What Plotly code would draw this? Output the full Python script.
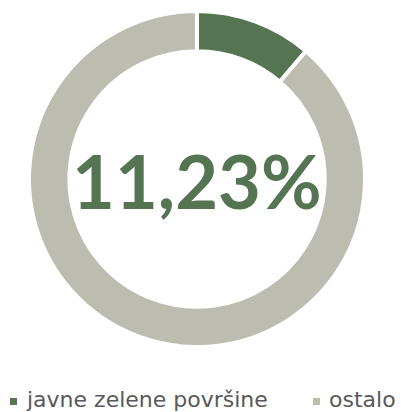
import plotly.graph_objects as go

labels = ["javne zelene površine", "ostalo"]
values = [11.23, 88.77]
colors = ["#557552", "#bdbcb0"]
center_label = "11,23%"

W, H = 401, 412

# legend entry positions in pixels (left edge of swatch)
legend_x = [10, 313]
legend_y = 401.5
swatch = 7

fig = go.Figure(
    go.Pie(
        labels=labels,
        values=values,
        hole=0.76,
        sort=False,
        direction="clockwise",
        rotation=0,
        textinfo="none",
        hoverinfo="label+percent",
        showlegend=False,
        marker=dict(colors=colors, line=dict(color="white", width=4)),
        domain=dict(x=[29 / W, 365 / W], y=[1 - 347 / H, 1 - 11 / H]),
    )
)

fig.add_annotation(
    text=f"<b>{center_label}</b>",
    x=197 / W, y=1 - 180 / H, xref="paper", yref="paper",
    xanchor="center", yanchor="middle",
    showarrow=False,
    font=dict(family="Lato", size=74, color=colors[0]),
)

# legend: coloured square swatch followed by the label
for lab, col, lx in zip(labels, colors, legend_x):
    fig.add_shape(
        type="rect", xref="paper", yref="paper",
        x0=lx / W, x1=(lx + swatch) / W,
        y0=1 - (legend_y - swatch / 2) / H, y1=1 - (legend_y + swatch / 2) / H,
        fillcolor=col, line=dict(width=0),
    )
    fig.add_annotation(
        text=lab, x=(lx + 14) / W, y=1 - 399.5 / H,
        xref="paper", yref="paper", xanchor="left", yanchor="middle",
        showarrow=False,
        font=dict(family="DejaVu Sans", size=22, color="#595959"),
    )

fig.update_layout(
    width=W,
    height=H,
    margin=dict(l=0, r=0, t=0, b=0, autoexpand=False),
    paper_bgcolor="white",
    plot_bgcolor="white",
    showlegend=False,
)

fig.write_html("out.html")
